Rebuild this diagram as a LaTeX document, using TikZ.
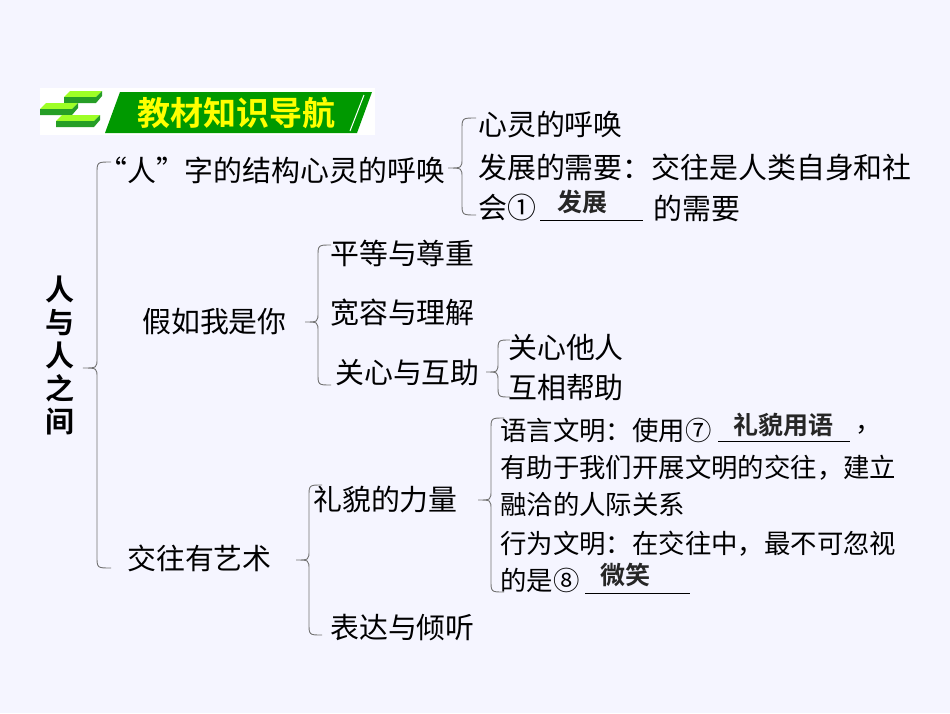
\documentclass[tikz,border=0pt]{standalone}
\usepackage{fontspec}
\setmainfont{Noto Sans CJK SC}
\newfontfamily\cjkb{Noto Sans CJK SC Bold}
\definecolor{hdryel}{RGB}{255,255,0}
\begin{document}
\begin{tikzpicture}[x=1pt,y=-1pt,
  big/.style={anchor=west,inner sep=0pt,font=\fontsize{28.9}{30}\selectfont},
  sml/.style={anchor=west,inner sep=0pt,font=\fontsize{26.4}{28}\selectfont},
  ans/.style={inner sep=0pt,font=\cjkb\fontsize{25}{28}\selectfont,text=black!85},
  brc/.style={draw=black!55,line width=0.9pt},
  uline/.style={draw=black,line width=0.9pt}]
\useasboundingbox (0,0) rectangle (950,713);
\fill[blue!4!white] (0,0) rectangle (950,713);
% header
\fill[white] (40,88) rectangle (375,135);
\fill[green!60!black] (120,92) -- (372,92) -- (357,133) -- (105,133) -- cycle;
\draw[white,line width=1pt] (364,95) -- (350,131);
\node[inner sep=0pt,text=hdryel,font=\cjkb\fontsize{33}{36}\selectfont] (hdr) at (236,113) {教材知识导航};
\foreach \px/\py/\w in {70/91/32,46/103/32,62/115/38}{
  \fill[green!45!yellow!85!white] (\px,\py) -- (\px+\w,\py) -- (\px+\w-6,\py+6) -- (\px-6,\py+6) -- cycle;
  \fill[green!55!black!85] (\px-6,\py+6) -- (\px+\w-6,\py+6) -- (\px+\w,\py) -- (\px+\w,\py+5) -- (\px+\w-6,\py+12) -- (\px-6,\py+12) -- cycle;
}
\newcommand\mybrace[5]{% x, d, top, mid, bot
  \draw[brc] (#1+#2,#3) .. controls (#1,#3) .. (#1,#3+12) -- (#1,#4-10) .. controls (#1,#4) .. (#1-#2,#4) .. controls (#1,#4) .. (#1,#4+10) -- (#1,#5-12) .. controls (#1,#5) .. (#1+#2,#5);}
% root
\node[inner sep=0pt,font=\cjkb\fontsize{29}{33}\selectfont,align=center] (root) at (60,355) {人\\与\\人\\之\\间};
\mybrace{97}{14}{162}{368}{568}
% branch 1
\node[big] (b1) at (98,170) {“人”字的结构心灵的呼唤};
\mybrace{462}{14}{118}{168}{215}
\node[big] (c11) at (478,125) {心灵的呼唤};
\node[big] (c12) at (478,167) {发展的需要：交往是人类自身和社};
\node[big] (c13) at (478,208) {会①};
\draw[uline] (540,220) -- (643,220);
\node[ans] (a1) at (582,202) {发展};
\node[big] (c13b) at (653,208) {的需要};
% branch 2
\node[big] (b2) at (142,322) {假如我是你};
\mybrace{318}{13}{245}{322}{385}
\node[big] (c21) at (330,253) {平等与尊重};
\node[big] (c22) at (330,313) {宽容与理解};
\node[big] (c23) at (335,373) {关心与互助};
\mybrace{498}{12}{340}{372}{397}
\node[big] (d1) at (508,348) {关心他人};
\node[big] (d2) at (508,388) {互相帮助};
% branch 3
\node[big] (b3) at (127,558) {交往有艺术};
\mybrace{309}{13}{485}{560}{635}
\node[big] (c31) at (313,500) {礼貌的力量};
\node[big] (c32) at (330,628) {表达与倾听};
\mybrace{491}{13}{418}{500}{592}
\node[sml] (e1) at (500,430) {语言文明：使用⑦};
\draw[uline] (718,441) -- (850,441);
\node[ans] (a2) at (783,425) {礼貌用语};
\node[sml] (e1b) at (855,430) {，};
\node[sml] (e2) at (500,468) {有助于我们开展文明的交往，建立};
\node[sml] (e3) at (500,504) {融洽的人际关系};
\node[sml] (e4) at (500,544) {行为文明：在交往中，最不可忽视};
\node[sml] (e5) at (500,580) {的是⑧};
\draw[uline] (585,593) -- (690,593);
\node[ans] (a3) at (625,575) {微笑};
\end{tikzpicture}
\end{document}
